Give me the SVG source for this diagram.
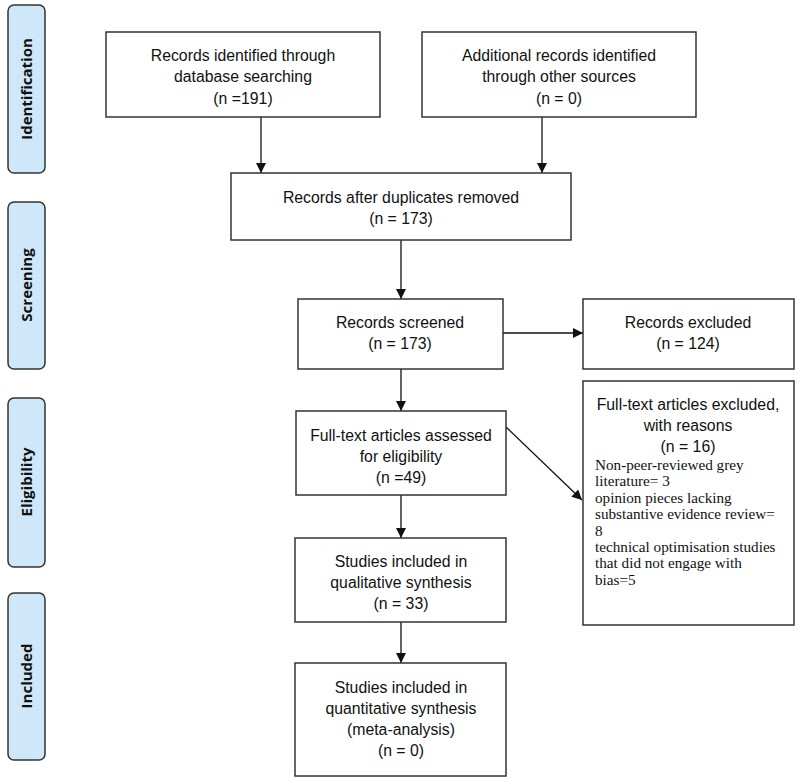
<svg xmlns="http://www.w3.org/2000/svg" width="800" height="779" viewBox="0 0 800 779">
<style>
.box{fill:#fff;stroke:#333;stroke-width:1.5}
.pill{fill:#cfe8f9;stroke:#333;stroke-width:1.5}
.t{font-family:"Liberation Sans",Arial,sans-serif;font-size:15.8px;fill:#111;text-anchor:middle}
.s{font-family:"Liberation Serif","Times New Roman",serif;font-size:15.2px;fill:#111}
.lab{font-family:"Open Sans","Liberation Sans",sans-serif;font-size:15px;font-weight:bold;fill:#111;text-anchor:middle}
.c{stroke:#111;stroke-width:1.3;fill:none;marker-end:url(#ah)}
</style>
<defs>
<marker id="ah" viewBox="0 0 10 10" refX="10" refY="5" markerWidth="10" markerHeight="10" markerUnits="userSpaceOnUse" orient="auto">
<path d="M0,0 L10,5 L0,10 z" fill="#111"/>
</marker>
</defs>
<rect width="800" height="779" fill="#fff"/>
<g id="stage-identification"><rect class="pill" x="8" y="5" width="37" height="168" rx="6"/><text class="lab" transform="translate(32,89) rotate(-90)">Identification</text></g>
<g id="stage-screening"><rect class="pill" x="8" y="202" width="37" height="167" rx="6"/><text class="lab" transform="translate(32,285) rotate(-90)">Screening</text></g>
<g id="stage-eligibility"><rect class="pill" x="8" y="398" width="37" height="169" rx="6"/><text class="lab" transform="translate(32,482) rotate(-90)">Eligibility</text></g>
<g id="stage-included"><rect class="pill" x="8" y="593" width="37" height="167" rx="6"/><text class="lab" transform="translate(32,676) rotate(-90)">Included</text></g>
<g id="connectors">
<line class="c" x1="261" y1="117" x2="261" y2="173"/>
<line class="c" x1="542" y1="117" x2="542" y2="173"/>
<line class="c" x1="401" y1="240" x2="401" y2="299"/>
<line class="c" x1="503" y1="333" x2="583" y2="333"/>
<line class="c" x1="401" y1="369" x2="401" y2="411"/>
<line class="c" x1="506" y1="427" x2="582" y2="500"/>
<line class="c" x1="401" y1="495" x2="401" y2="538"/>
<line class="c" x1="401" y1="622" x2="401" y2="663"/>
</g>
<g id="n-db"><rect class="box" x="106" y="32" width="274" height="85"/>
<text class="t" x="243" y="61">Records identified through</text><text class="t" x="243" y="82">database searching</text><text class="t" x="243" y="104">(n =191)</text></g>
<g id="n-other"><rect class="box" x="422" y="32" width="274" height="85"/>
<text class="t" x="559" y="61">Additional records identified</text><text class="t" x="559" y="82">through other sources</text><text class="t" x="559" y="104">(n = 0)</text></g>
<g id="n-dup"><rect class="box" x="231" y="173" width="340" height="67"/>
<text class="t" x="401" y="203">Records after duplicates removed</text><text class="t" x="401" y="224">(n = 173)</text></g>
<g id="n-screened"><rect class="box" x="298" y="299" width="205" height="70"/>
<text class="t" x="400" y="328">Records screened</text><text class="t" x="400" y="349">(n = 173)</text></g>
<g id="n-excluded"><rect class="box" x="583" y="299" width="211" height="70"/>
<text class="t" x="688" y="328">Records excluded</text><text class="t" x="688" y="349">(n = 124)</text></g>
<g id="n-fulltext"><rect class="box" x="296" y="411" width="210" height="84"/>
<text class="t" x="401" y="441">Full-text articles assessed</text><text class="t" x="401" y="462">for eligibility</text><text class="t" x="401" y="483">(n =49)</text></g>
<g id="n-ftexcluded"><rect class="box" x="583" y="381" width="211" height="244"/>
<text class="t" x="688" y="410">Full-text articles excluded,</text><text class="t" x="688" y="431">with reasons</text><text class="t" x="688" y="452">(n = 16)</text>
<text class="s" x="595" y="470">Non-peer-reviewed grey</text>
<text class="s" x="595" y="486">literature= 3</text>
<text class="s" x="595" y="503">opinion pieces lacking</text>
<text class="s" x="595" y="519">substantive evidence review=</text>
<text class="s" x="595" y="536">8</text>
<text class="s" x="595" y="552">technical optimisation studies</text>
<text class="s" x="595" y="568">that did not engage with</text>
<text class="s" x="595" y="585">bias=5</text></g>
<g id="n-qual"><rect class="box" x="295" y="538" width="211" height="84"/>
<text class="t" x="401" y="567">Studies included in</text><text class="t" x="401" y="588">qualitative synthesis</text><text class="t" x="401" y="609">(n = 33)</text></g>
<g id="n-quant"><rect class="box" x="295" y="663" width="211" height="113"/>
<text class="t" x="401" y="693">Studies included in</text><text class="t" x="401" y="714">quantitative synthesis</text><text class="t" x="401" y="735">(meta-analysis)</text><text class="t" x="401" y="756">(n = 0)</text></g>
</svg>
